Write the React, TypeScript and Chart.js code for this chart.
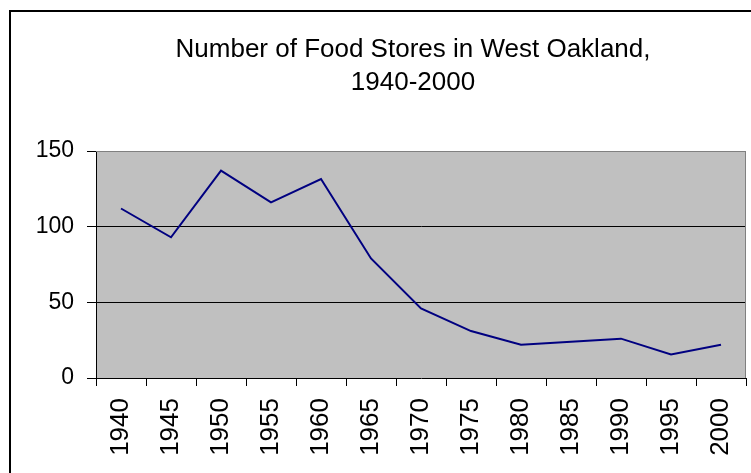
import React, { useEffect, useRef } from "react";
import { Chart, registerables } from "chart.js";

Chart.register(...registerables);

const categories = ["1940", "1945", "1950", "1955", "1960", "1965", "1970", "1975", "1980", "1985", "1990", "1995", "2000"];
const storeCounts = [112, 93, 137, 116, 131.5, 79, 46, 31, 22, 24, 26, 15.5, 22];
const yTickValues = [0, 50, 100, 150];
const titleLines = ["Number of Food Stores in West Oakland,", "1940-2000"];

const FONT = "'Liberation Sans', Arial, sans-serif";
const W = 751;
const H = 473;

const decorPlugin = {
  id: "decor",
  beforeDraw(chart: any) {
    const { ctx, chartArea } = chart;
    ctx.save();
    ctx.fillStyle = "#ffffff";
    ctx.fillRect(0, 0, W, H);
    // outer chart border (extends beyond the picture on right/bottom)
    ctx.strokeStyle = "#000000";
    ctx.lineWidth = 2;
    ctx.beginPath();
    ctx.moveTo(10, H + 5);
    ctx.lineTo(10, 11);
    ctx.lineTo(W + 5, 11);
    ctx.stroke();
    // plot area background
    ctx.fillStyle = "#C0C0C0";
    ctx.fillRect(chartArea.left, chartArea.top, chartArea.right - chartArea.left, chartArea.bottom - chartArea.top);
    ctx.restore();
  },
  beforeDatasetsDraw(chart: any) {
    const { ctx, chartArea } = chart;
    ctx.save();
    ctx.strokeStyle = "#808080";
    ctx.lineWidth = 1;
    ctx.beginPath();
    ctx.moveTo(chartArea.left, chartArea.top + 0.5);
    ctx.lineTo(chartArea.right - 0.5, chartArea.top + 0.5);
    ctx.lineTo(chartArea.right - 0.5, chartArea.bottom);
    ctx.stroke();
    ctx.restore();
  },
  afterDraw(chart: any) {
    const { ctx } = chart;
    ctx.save();
    ctx.fillStyle = "#000000";
    ctx.font = `26px ${FONT}`;
    ctx.textAlign = "center";
    ctx.textBaseline = "alphabetic";
    ctx.fillText(titleLines[0], 413, 57);
    ctx.fillText(titleLines[1], 413, 90);
    ctx.restore();
  },
};

export default function App() {
  const canvasRef = useRef<HTMLCanvasElement | null>(null);

  useEffect(() => {
    const canvas = canvasRef.current;
    if (!canvas) return;
    const chart = new Chart(canvas, {
      type: "line",
      data: {
        labels: categories,
        datasets: [
          {
            label: "Food stores",
            data: storeCounts,
            borderColor: "#000080",
            borderWidth: 2,
            pointRadius: 0,
            pointHoverRadius: 0,
            tension: 0,
            fill: false,
          },
        ],
      },
      options: {
        animation: false,
        responsive: false,
        devicePixelRatio: 1,
        layout: { padding: { top: 151, right: 5, left: 0, bottom: 0 } },
        plugins: {
          legend: { display: false },
          title: { display: false },
          tooltip: { enabled: false },
        },
        scales: {
          x: {
            type: "category",
            offset: true,
            grid: {
              offset: true,
              drawOnChartArea: false,
              drawTicks: true,
              tickLength: 8,
              tickColor: "#000000",
              tickWidth: 1,
            },
            border: { display: true, color: "#000000", width: 1 },
            ticks: {
              minRotation: 90,
              maxRotation: 90,
              autoSkip: false,
              padding: 12,
              color: "#000000",
              font: { family: FONT, size: 26 },
            },
            afterFit(scale: any) {
              scale.height = H - 378;
              scale.paddingLeft = 0;
              scale.paddingRight = 0;
            },
          },
          y: {
            min: 0,
            max: 150,
            grid: {
              color: (ctx: any) => (ctx.tick && ctx.tick.value === 150 ? "#808080" : ctx.tick && ctx.tick.value === 0 ? "rgba(0,0,0,0)" : "#000000"),
              lineWidth: 1,
              tickLength: 9,
              tickColor: "#000000",
              drawTicks: true,
            },
            border: { display: true, color: "#000000", width: 1 },
            ticks: {
              padding: 13,
              color: "#000000",
              font: { family: FONT, size: 23 },
            },
            afterBuildTicks(scale: any) {
              scale.ticks = yTickValues.map((v) => ({ value: v }));
            },
            afterFit(scale: any) {
              scale.width = 96;
              scale.paddingTop = 0;
              scale.paddingBottom = 0;
            },
          },
        },
      },
      plugins: [decorPlugin],
    });
    return () => chart.destroy();
  }, []);

  return (
    <div style={{ position: "fixed", left: 0, top: 0, width: W, height: H, background: "#fff" }}>
      <canvas ref={canvasRef} width={W} height={H} style={{ display: "block", width: W, height: H }} />
    </div>
  );
}
